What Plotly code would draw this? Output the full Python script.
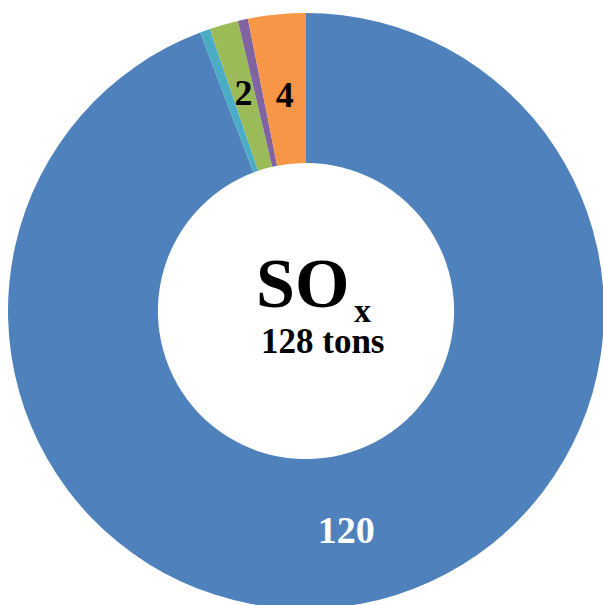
import plotly.graph_objects as go

# data
sources = ["Source A", "Source B", "Source C", "Source D", "Source E"]
emissions = [120.7, 0.7, 2.0, 0.7, 4.0]
ring_labels = ["120", "", "", "", ""]      # label drawn in the middle of the ring
edge_labels = ["", "", "2", "", "4"]       # labels of the thin slices
colors = ["#4F81BD", "#4BACC6", "#9BBB59", "#8064A2", "#F79646"]
title_main = "SO"
title_sub = "x"
total_label = "128 tons"

W, H = 612, 615
CX, CY = 306, 311          # ring centre, px from top-left
R_OUT, R_LBL = 298, 238


def dom(r):
    return dict(x=[(CX - r) / W, (CX + r) / W],
                y=[(H - CY - r) / H, (H - CY + r) / H])


fig = go.Figure()
fig.add_trace(go.Pie(
    labels=sources, values=emissions, text=ring_labels,
    texttemplate="<b>%{text}</b>", textposition="inside",
    insidetextorientation="horizontal",
    insidetextfont=dict(family="Liberation Serif", size=38, color="white"),
    marker=dict(colors=colors, line=dict(width=0)),
    hole=0.497, sort=False, direction="clockwise", rotation=0,
    showlegend=False, hoverinfo="label+value",
    domain=dom(R_OUT),
))
# transparent copy of the same slices, only used to place the thin-slice labels
fig.add_trace(go.Pie(
    labels=sources, values=emissions, text=edge_labels,
    texttemplate="<b>%{text}</b>", textposition="inside",
    insidetextorientation="horizontal",
    insidetextfont=dict(family="Liberation Serif", size=36, color="black"),
    marker=dict(colors=["rgba(0,0,0,0)"] * len(emissions), line=dict(width=0)),
    sort=False, direction="clockwise", rotation=0,
    showlegend=False, hoverinfo="skip",
    domain=dom(R_LBL),
))

fig.add_annotation(
    text="<b>" + title_main + "</b>",
    x=351 / W, y=1 - 283 / H, xref="paper", yref="paper",
    showarrow=False, font=dict(family="Liberation Serif", size=70, color="black"),
    xanchor="right", yanchor="middle",
)
fig.add_annotation(
    text="<b>" + title_sub + "</b>",
    x=352 / W, y=1 - 310 / H, xref="paper", yref="paper",
    showarrow=False, font=dict(family="Liberation Serif", size=34, color="black"),
    xanchor="left", yanchor="middle",
)
fig.add_annotation(
    text="<b>" + total_label + "</b>",
    x=323 / W, y=1 - 341 / H, xref="paper", yref="paper",
    showarrow=False, font=dict(family="Liberation Serif", size=35, color="black"),
    xanchor="center", yanchor="middle",
)

fig.update_layout(
    width=W, height=H,
    margin=dict(l=0, r=0, t=0, b=0),
    paper_bgcolor="white", plot_bgcolor="white",
    font=dict(family="Liberation Serif"),
    uniformtext=dict(minsize=36, mode="show"),
)

fig.write_html("out.html")
